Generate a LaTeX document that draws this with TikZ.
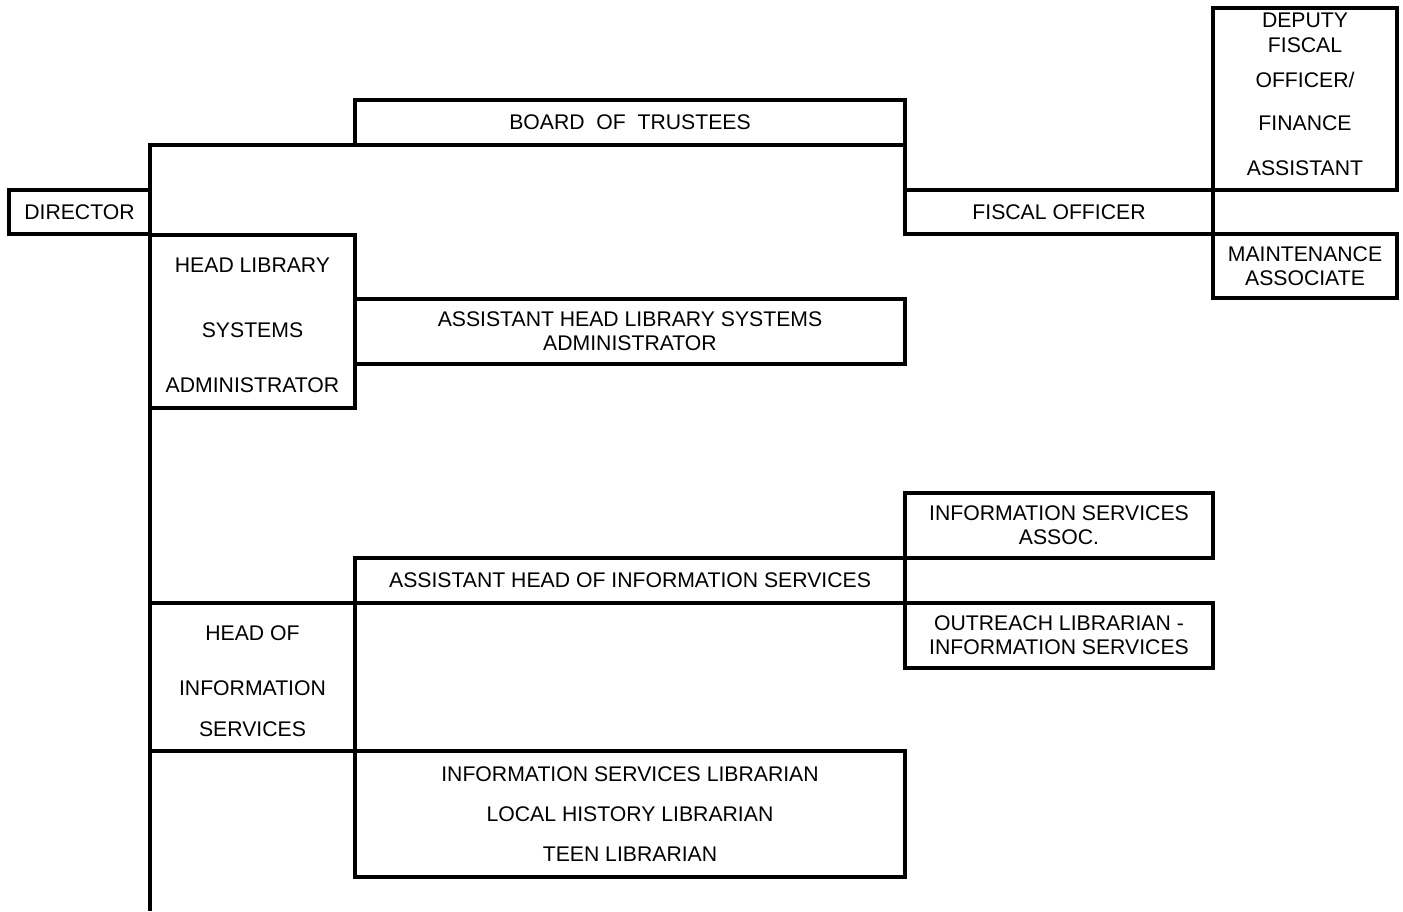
\documentclass[tikz,border=0pt]{standalone}
\usepackage{fontspec}
\setmainfont{Liberation Sans}
\usetikzlibrary{positioning}

\begin{document}
\begin{tikzpicture}[x=0.5pt, y=-0.5pt,
    post/.style={draw, line width=1.6pt, inner sep=0pt, outer sep=0pt, align=center, anchor=north west, font=\fontsize{10.6}{12}\selectfont},
    wire/.style={line width=1.6pt}]
			\useasboundingbox (0,0) rectangle (1403,911);
			% Nodes
			\node[post, minimum width=70.5pt, minimum height=22pt] (director) at (9,190) {DIRECTOR};
			\node[post, minimum width=275pt, minimum height=22.5pt] (board) at (355,100) {BOARD~~OF~~TRUSTEES};
			\node[post, minimum width=154pt, minimum height=22pt] (fiscal) at (905,190) {FISCAL OFFICER};
			\node[post, minimum width=92pt, minimum height=91pt] (deputy) at (1213,8) {DEPUTY\\[0.5pt]FISCAL\\[5.5pt]OFFICER/\\[9.5pt]FINANCE\\[10.5pt]ASSISTANT\rule[-5pt]{0pt}{5pt}};
			\node[post, minimum width=92pt, minimum height=32pt] (maint) at (1213,234) {MAINTENANCE\\ASSOCIATE};
			\node[post, minimum width=102.5pt, minimum height=86.5pt] (headsys) at (150,235) {\rule{0pt}{11.5pt}HEAD LIBRARY\\[20.5pt]SYSTEMS\\[15.5pt]ADMINISTRATOR};
			\node[post, minimum width=275pt, minimum height=32.5pt] (asstsys) at (355,299) {ASSISTANT HEAD LIBRARY SYSTEMS\\ADMINISTRATOR};
			\node[post, minimum width=154pt, minimum height=32.5pt] (isassoc) at (905,493) {INFORMATION SERVICES\\ASSOC.};
			\node[post, minimum width=275pt, minimum height=22.5pt] (asstinfo) at (355,558) {ASSISTANT HEAD OF INFORMATION SERVICES};
			\node[post, minimum width=154pt, minimum height=32.5pt] (outreach) at (905,603) {OUTREACH LIBRARIAN -\\INFORMATION SERVICES};
			\node[post, minimum width=102.5pt, minimum height=74pt] (headinfo) at (150,603) {\rule{0pt}{11.5pt}HEAD OF\\[15.5pt]INFORMATION\\[8.5pt]SERVICES};
			\node[post, minimum width=275pt, minimum height=63pt] (libs) at (355,751) {INFORMATION SERVICES LIBRARIAN\\[8pt]LOCAL HISTORY LIBRARIAN\\[8pt]TEEN LIBRARIAN};
			\coordinate (spineend) at (150,911);
			% Lines
			\draw[wire] (director.north east) |- (board.south west);
			\draw[wire] (board.south east) -- (fiscal.north west);
			\draw[wire] (director.south east) -- (spineend);
		\end{tikzpicture}
\end{document}
